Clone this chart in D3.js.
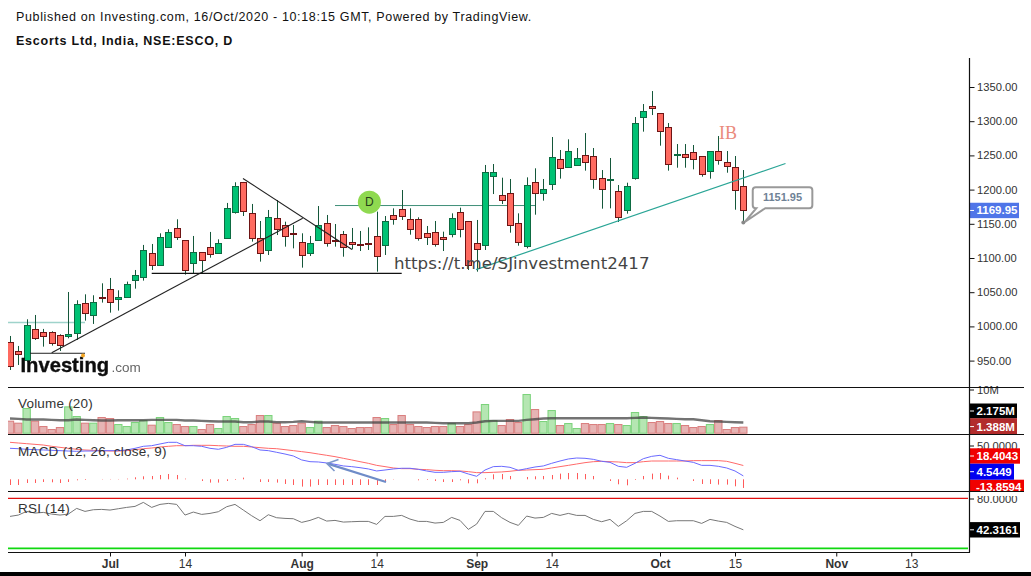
<!DOCTYPE html>
<html><head><meta charset="utf-8">
<script src="https://cdn.jsdelivr.net/npm/d3@7/dist/d3.min.js"></script>
<style>html,body{margin:0;padding:0;background:#fff;overflow:hidden}svg{display:block}text{font-family:"Liberation Sans",Arial,sans-serif}</style>
</head><body><div id="c"></div>
<script>
const opens=[976.8,963.6,950,995.8,991.4,991.4,987,986.5,989.9,1033.8,1016.2,1042.5,1054.2,1039.6,1042.5,1067.4,1071.8,1106.9,1089.3,1115.6,1143.4,1125.9,1092.3,1108.3,1115.6,1106.9,1128.8,1166.8,1210.7,1165.3,1128.8,1111.2,1158,1147.8,1136.1,1122.9,1106.8,1125.8,1150.7,1126.3,1134.6,1122.9,1120,1121.9,1131.7,1118,1162.4,1171.2,1156.5,1156.5,1136.1,1137.5,1130.2,1134.6,1166.8,1153.6,1121.4,1118.5,1218.9,1191.6,1194.5,1150.7,1116.6,1210.6,1194,1207.2,1244.2,1232.5,1235,1250.1,1248.6,1216.4,1213.5,1197.4,1169.7,1216,1305.6,1321.7,1311.5,1291,1249.6,1251.5,1254.5,1248.6,1226.7,1255.9,1239.8,1232.5,1204.8];
const closes=[941.2,959.2,1001.6,982.1,985.5,975.3,972.4,989,1032.3,1019.2,1035.2,1040.6,1034.8,1042.5,1061.6,1074.7,1111.3,1089.3,1130.3,1137.6,1130.3,1082,1108.3,1096.6,1105.4,1121.5,1172.7,1204.8,1168.3,1128.8,1106.8,1159.5,1141.9,1131.2,1134.1,1103.4,1121.5,1147.8,1121.5,1124.4,1115.6,1119.5,1118,1120.5,1102,1153.6,1156.5,1160.4,1141.4,1128.8,1130.2,1120,1126.8,1158,1141.9,1088.8,1112.7,1225.2,1225.2,1184.3,1147.7,1122.9,1206.2,1194,1200.4,1247.1,1231.1,1255.9,1245.7,1239.8,1215,1200.4,1215.5,1159.4,1204.8,1296.9,1314.4,1318.3,1285.2,1236.9,1251.5,1246.7,1244.2,1222.3,1255.9,1242.8,1233.5,1198.9,1169.95];
const highs=[986,971.4,1010.4,1016.7,996.3,992.9,988.5,1050.3,1038.2,1046.9,1045.5,1063,1070.8,1052.8,1065.5,1082.5,1119.1,1120.5,1136.1,1142,1156.6,1125.9,1132.2,1108.3,1138.1,1127.3,1180.5,1210.7,1211.2,1179,1154.1,1170.2,1184.8,1153.1,1148.3,1136.1,1132.2,1176,1162.9,1149.7,1139.5,1143.9,1139.5,1144.8,1167.8,1161.4,1172.6,1199.4,1172.6,1159.5,1146.8,1154.1,1138.5,1165.3,1173.6,1154.1,1155.6,1236,1237.4,1217.4,1215.5,1165.3,1217.9,1231.1,1215.5,1276.9,1257.9,1273.5,1260.8,1282.7,1260.8,1228.6,1246.2,1206.7,1210.1,1306.1,1325.1,1344.1,1311.5,1297.3,1266.6,1266.6,1265.2,1248.6,1256.4,1278.3,1256.4,1249.1,1228.6];
const lows=[936.3,943.6,948.5,980.2,970.4,971.9,964.1,982.6,980.2,1008.4,1003.6,1034.8,1020.1,1023.1,1042,1055.2,1066.9,1082.5,1089.3,1115.6,1126.4,1075.7,1077.6,1077.6,1100.5,1106.9,1128.8,1164.9,1161.4,1123.9,1094.7,1104.4,1133.6,1116.6,1114.1,1085.9,1102.9,1125.4,1116.6,1116.6,1101.9,1112.7,1110.2,1111.7,1080,1104.4,1148.7,1155.6,1134.1,1125.4,1119,1116.6,1110.2,1130.2,1130.2,1082.5,1080,1111.7,1193.5,1178.9,1137,1118,1114.1,1163.3,1183.8,1199.4,1216,1232.5,1235,1227.7,1201.3,1172.1,1172.6,1152.6,1164.8,1214.5,1284.7,1309,1264.2,1227.7,1232,1232,1229.6,1218.9,1216,1236.4,1224.7,1170.6,1151.95];
const volumes=[2.76,2.30,5.67,2.76,1.53,0.84,1.30,6.05,3.83,2.30,2.30,3.60,3.37,1.99,1.53,2.45,2.91,1.84,3.60,2.45,1.99,1.53,1.53,0.84,1.99,1.07,3.83,3.37,1.53,1.99,4.06,4.06,2.30,1.53,1.76,2.30,1.30,2.76,1.30,1.76,1.53,1.07,1.30,1.30,3.60,3.37,1.99,4.06,1.99,1.53,1.30,1.53,1.53,2.22,1.53,1.99,4.90,6.59,2.91,1.76,3.14,2.45,8.89,5.44,2.68,5.21,1.76,2.22,1.07,2.22,1.99,1.99,2.22,1.99,1.76,4.75,3.83,2.45,2.68,2.22,2.22,1.76,1.30,1.53,1.99,2.91,0.84,1.30,1.388];
const volumeMA=[3.37,3.29,3.14,3.14,3.14,3.06,2.99,2.99,3.14,3.06,2.99,2.91,2.91,2.99,2.99,2.99,2.99,3.06,3.06,3.06,3.06,2.91,2.91,2.83,2.76,2.68,2.68,2.68,2.53,2.53,2.68,2.68,2.53,2.53,2.60,2.76,2.60,2.45,2.45,2.45,2.45,2.45,2.45,2.45,2.45,2.45,2.45,2.45,2.45,2.45,2.45,2.37,2.30,2.30,2.30,2.30,2.45,2.76,2.83,2.83,2.83,2.83,3.06,3.22,3.37,3.45,3.45,3.45,3.45,3.45,3.45,3.45,3.45,3.45,3.45,3.52,3.60,3.52,3.45,3.37,3.29,3.22,3.22,2.99,2.76,2.68,2.60,2.53,2.45];
const macdLine=[41.3,40.8,40,39.5,39.1,38.6,38.2,37.7,37.3,37.7,37.7,38.2,38.2,38.2,39.1,41.3,44,44.8,47.1,49.3,49.3,44.8,44.8,44,41.3,40,42.6,46.6,46.6,43.5,39.1,38.2,36,33.7,31.1,25.8,23.5,23.1,21.8,20,17.8,16.9,15.5,13.8,11.1,12.4,13.8,14.7,14.7,13.3,11.1,9.3,9.3,10.2,10.7,7.1,4,12.4,16.9,17.3,16,12,14.2,16.4,17.8,21.3,24.4,27.1,28.4,28,26.6,24,22.6,17.3,16,21.3,27.5,30.6,32,28,26.2,24.4,22.6,18.6,18.6,17.3,15.1,11.1,4.54];
const signalLine=[49.3,48.4,47.5,46.6,45.7,44,42.6,41.3,40,39.1,38.6,38.2,37.7,37.7,38.2,39.5,40.8,41.7,43.1,44,44.8,44.8,45.3,45.3,45.3,44.8,44.4,44,44,43.1,42.2,41.3,40.8,39.5,38.2,36.9,35.5,33.7,32,30.2,28,25.8,23.5,21.3,18.6,16.9,15.1,14.2,14.2,13.3,12.9,12,11.5,11.5,11.1,10.2,8.9,8.9,9.3,9.8,10.7,12,12.4,12.9,13.3,15.1,16.9,18.6,20.4,22.2,23.5,24,23.5,23.1,22.2,22.2,23.5,24.4,24.4,24.4,24.4,24.4,24.9,24.9,24.9,24.9,24,21.3,18.4];
const macdHist=[-9.1,-9.1,-5.9,-5.9,-4.3,-4.8,-5.9,-4.3,-1.6,-1.1,0,0.5,0.5,0.5,1.1,3.2,4.8,5.3,6.9,8.5,6.9,1.1,0,-2.7,-5.3,-5.3,-2.7,-1.1,2.7,0,-4.3,-4.3,-5.3,-7.5,-9.1,-11.7,-11.7,-9.1,-9.1,-9.1,-9.1,-9.1,-9.1,-9.1,-9.1,-3.2,0.5,0,0,-1.6,-1.1,-2.7,-4.3,-4.3,-1.6,-6.4,-6.4,1.6,8,8.5,5.3,0,3.7,4.8,5.3,6.9,9.1,10.1,10.1,8.5,5.3,0,-2.7,-8,-9.6,-1.1,5.3,9.1,10.1,5.9,2.7,0,-2.7,-7.5,-7.5,-8.5,-8.5,-11.2,-13.86];
const rsiLine=[58.4,60,64.4,62.4,63.2,61.2,60,61.2,68,64.4,66.4,66.8,66,67.6,69.2,70.4,75.2,69.2,72.8,74,72.8,60,63.6,60.8,62,64,70,72.8,66,59.2,53.2,60.4,56.8,56,55.6,51.2,53.6,57.2,52.8,53.6,51.6,52,52.4,52.4,48.8,58.4,58.4,59.6,55.2,52.4,52.4,50.4,51.2,57.2,53.6,42.8,49.2,64.4,64.4,56.8,51.2,47.6,58.8,56.4,57.2,62,59.6,62,59.6,59.6,54.8,52,54.8,46.4,53.2,62,64.4,64.4,58.8,52.4,53.2,53.2,53.2,50,54.8,52.8,51.2,46.4,42.32];
const priceTicks=[950,1000,1050,1100,1150,1200,1250,1300,1350];
const timeTickIndex=[12,21,35,44,56,65,78,87,99.15,108.15];
const timeTickLabels=["Jul","14","Aug","14","Sep","14","Oct","15","Nov","13"];
const timeTickBold=[true,false,true,false,true,false,true,false,true,false];

const W=1031,H=576;
const x=d3.scaleLinear().domain([0,110]).range([10,926.67]);
const yP=d3.scaleLinear().domain([950,1350]).range([360.6,87]);
const yV=d3.scaleLinear().domain([0,10]).range([433.2,389.7]);
const yM=d3.scaleLinear().domain([0,50]).range([479.3,441.8]);
const yH=d3.scaleLinear().domain([0,10]).range([479.3,473.05]);
const yR=d3.scaleLinear().domain([20,80]).range([548.4,498.4]);
const svg=d3.select("#c").append("svg").attr("width",W).attr("height",H);
const defs=svg.append("defs");
defs.append("clipPath").attr("id","plot").append("rect").attr("x",8).attr("y",58).attr("width",961).attr("height",329);
defs.append("clipPath").attr("id","vol").append("rect").attr("x",8).attr("y",388).attr("width",961).attr("height",46);
defs.append("filter").attr("id","soft").append("feGaussianBlur").attr("stdDeviation",0.45);
svg.append("rect").attr("width",W).attr("height",H).attr("fill","#fff");

svg.append("text").attr("x",16).attr("y",21).attr("font-size",12.5).attr("letter-spacing",".64").attr("fill","#111").text("Published on Investing.com, 16/Oct/2020 - 10:18:15 GMT, Powered by TradingView.");
svg.append("text").attr("x",16).attr("y",45).attr("font-size",12.5).attr("font-weight","bold").attr("letter-spacing",".77").attr("fill","#111").text("Escorts Ltd, India, NSE:ESCO, D");

const idx=d3.range(opens.length);
const main=svg.append("g").attr("clip-path","url(#plot)");
const seg=(g,x1,p1,x2,p2,c,w)=>g.append("line").attr("x1",x1).attr("y1",p1).attr("x2",x2).attr("y2",p2).attr("stroke",c).attr("stroke-width",w);
// horizontal guide lines behind candles
seg(main,8,yP(1005.7),85,yP(1005.7),"#9fd3cb",1.5);
seg(main,335,yP(1176.7),535,yP(1176.7),"#3f8f78",1);

const up=i=>closes[i]>=opens[i];
const cx=i=>Math.round(x(i))+0.5;
main.selectAll(".wick").data(idx).join("line").attr("x1",cx).attr("x2",cx)
  .attr("y1",i=>yP(highs[i])).attr("y2",i=>yP(lows[i])).attr("stroke","#14573a").attr("stroke-width",1);
main.selectAll(".body").data(idx).join("rect")
  .attr("x",i=>cx(i)-3).attr("width",6)
  .attr("y",i=>Math.round(yP(Math.max(opens[i],closes[i])))+0.5)
  .attr("height",i=>Math.max(1,Math.round(Math.abs(yP(opens[i])-yP(closes[i])))))
  .attr("fill",i=>up(i)?"#00c274":"#ff6a60")
  .attr("stroke",i=>up(i)?"#0e6b42":"#6e1414").attr("stroke-width",1);

// drawings
seg(main,30,yP(960.7),85,yP(960.7),"#222",1);
seg(main,51.7,352.7,302.7,218.3,"#222",1.1);
seg(main,243,178.5,352,249.5,"#222",1.1);
seg(main,151.7,273.4,401.7,273.4,"#111",1.2);
seg(main,476,269.6,785.5,163.5,"#2aa596",1.2);

// D marker
main.append("circle").attr("cx",369.4).attr("cy",202.2).attr("r",11.5).attr("fill","#8fd950");
main.append("text").attr("x",369.4).attr("y",206.3).attr("text-anchor","middle").attr("font-size",12).attr("fill","#27401a").text("D");
// IB
main.append("text").attr("x",719).attr("y",139).attr("font-size",18).attr("fill","#ea8a7c").style("font-family","'Liberation Serif',serif").text("IB");
// Low callout
const ax=x(88),ay=yP(lows[88]);
const L=ax+9.4,R=ax+69,T=ay-35.3,B=ay-14.3;
main.append("path").attr("d",`M${L+3},${T}H${R-3}Q${R},${T} ${R},${T+3}V${B-3}Q${R},${B} ${R-3},${B}H${ax+22}L${ax+1.5},${ay-0.5}L${ax+13},${B}H${L+3}Q${L},${B} ${L},${B-3}V${T+3}Q${L},${T} ${L+3},${T}Z`)
  .attr("fill","#fff").attr("stroke","#999").attr("stroke-width",2);
main.append("circle").attr("cx",ax).attr("cy",ay).attr("r",2).attr("fill","#888");
main.append("text").attr("x",(L+R)/2).attr("y",T+14).attr("text-anchor","middle").attr("font-size",11).attr("font-weight","bold").attr("fill","#6f8296").text("1151.95");
// watermark
svg.append("text").attr("x",394).attr("y",269).attr("font-size",16.67).style("font-family","'DejaVu Sans',sans-serif").attr("fill","#444").text("https://t.me/SJinvestment2417");
// logo
const logo=svg.append("g").attr("filter","url(#soft)");
logo.append("text").attr("x",20.5).attr("y",372).attr("font-size",20.2).attr("font-weight","bold").attr("fill","#111").attr("stroke","#111").attr("stroke-width",.4).text("Investing");
logo.append("text").attr("x",111.5).attr("y",372).attr("font-size",13.5).attr("fill","#666").text(".com");
logo.append("circle").attr("cx",83).attr("cy",355.5).attr("r",2).attr("fill","#f5a623");

// volume
const volG=svg.append("g").attr("clip-path","url(#vol)");
volG.selectAll("rect").data(idx).join("rect")
  .attr("x",i=>x(i)-4.17+0.5).attr("width",7.33).attr("y",i=>yV(volumes[i])).attr("height",i=>yV(0)-yV(volumes[i]))
  .attr("fill",i=>up(i)?"#b5e6b2":"#e6b4b4").attr("stroke",i=>up(i)?"#79d279":"#d97c7c").attr("stroke-width",1);
const ln=(vals,y)=>d3.line().x((d,i)=>x(i)).y(d=>y(d))(vals);
svg.append("path").attr("d",ln(volumeMA,yV)).attr("fill","none").attr("stroke","#444").attr("stroke-opacity",.75).attr("stroke-width",2.4);
// macd
svg.selectAll(".h").data(idx).join("line").attr("x1",i=>Math.round(x(i))+0.5).attr("x2",i=>Math.round(x(i))+0.5)
  .attr("y1",yH(0)).attr("y2",i=>yH(macdHist[i])).attr("stroke","#ff5a5a").attr("stroke-width",1);
svg.append("path").attr("d",ln(signalLine,yM)).attr("fill","none").attr("stroke","#ff6a6a").attr("stroke-width",1);
svg.append("path").attr("d",ln(macdLine,yM)).attr("fill","none").attr("stroke","#6a6aff").attr("stroke-width",1);
// arrow
svg.append("path").attr("d","M386,482L327.5,463.6").attr("stroke","#6f8cc8").attr("stroke-width",2.2).attr("fill","none");
svg.append("path").attr("d","M338.5,459.5L327,463.5L334.5,471").attr("stroke","#7d97cc").attr("stroke-width",1.6).attr("fill","none");
// rsi
svg.append("path").attr("d",ln(rsiLine,yR)).attr("fill","none").attr("stroke","#777").attr("stroke-width",1);
seg(svg,8,yR(80),968,yR(80),"#e01010",1.2);
seg(svg,8,yR(20),968,yR(20),"#10d810",1.6);

// panel legends
[["Volume (20)",408],["MACD (12, 26, close, 9)",456],["RSI (14)",512.5]].forEach(d=>
  svg.append("text").attr("x",18).attr("y",d[1]).attr("font-size",13.5).attr("letter-spacing",".2").attr("fill","#333").text(d[0]));

// right axes
const priceAxis=d3.axisRight(yP).tickValues(priceTicks).tickFormat(d3.format(".2f")).tickSize(5).tickPadding(3);
const pa=svg.append("g").attr("transform","translate(969.5,0)").call(priceAxis);
pa.select(".domain").remove();
pa.selectAll("line").attr("stroke","#111");
pa.selectAll("text").attr("font-size",11.2).attr("fill","#333").attr("x",7.5);

// last value labels and static labels: [text, y centre, band colour, right edge, band height]
const bands=[
 ["1169.95",yP(closes[88])+0.3,"#4f75e8",1019,15.4],
 ["2.175M",411,"#000",1017,15],
 ["1.388M",426.6,"#b22c2c",1017,16.7],
 ["18.4043",456,"#f00000",1020,15.4],
 ["4.5449",471.7,"#0000f0",1014,16],
 ["42.3161",yR(42.32),"#000",1020,15.4]];
const plain=[["10M",390],["50.0000",446],["80.0000",499]];
const tk=svg.append("g");
plain.forEach(d=>{
  tk.append("text").attr("x",977).attr("y",d[1]+4).attr("font-size",11.2).attr("fill","#333").text(d[0]);
  seg(tk,970,d[1],974,d[1],"#111",1);
});
// -13.8594 band, clipped by separator
tk.append("rect").attr("x",969.5).attr("y",479.7).attr("width",54.5).attr("height",11.3).attr("fill","#f00000");
tk.append("text").attr("x",976).attr("y",491).attr("font-size",11.5).attr("font-weight","bold").attr("fill","#fff").text("-13.8594");
tk.append("rect").attr("x",969.5).attr("y",491).attr("width",56).attr("height",5).attr("fill","#fff");
bands.forEach(d=>{
  tk.append("rect").attr("x",969.5).attr("y",d[1]-d[4]/2).attr("width",d[3]-969.5).attr("height",d[4]).attr("fill",d[2]);
  tk.append("text").attr("x",976.5).attr("y",d[1]+4).attr("font-size",11.5).attr("font-weight","bold").attr("fill","#fff").text(d[0]);
  seg(tk,970,d[1],974,d[1],"#fff",1);
});

// frame
seg(svg,969.5,58,969.5,552.5,"#111",1.2);
[387.5,434.5,491.5].forEach(y=>seg(svg,8,y,1024,y,"#111",1.2));
seg(svg,8,552.5,970,552.5,"#111",1.2);

// time axis
const xa=svg.append("g").attr("transform","translate(0,552.5)").call(d3.axisBottom(x).tickValues(timeTickIndex).tickFormat((d,i)=>timeTickLabels[i]).tickSize(4).tickPadding(3));
xa.select(".domain").remove();
xa.selectAll("line").attr("stroke","#111");
xa.selectAll("text").attr("font-size",12).attr("fill","#333").attr("font-weight",(d,i)=>timeTickBold[i]?"bold":"normal");
svg.append("rect").attr("x",0).attr("y",572).attr("width",W).attr("height",4).attr("fill","#000");
</script></body></html>
